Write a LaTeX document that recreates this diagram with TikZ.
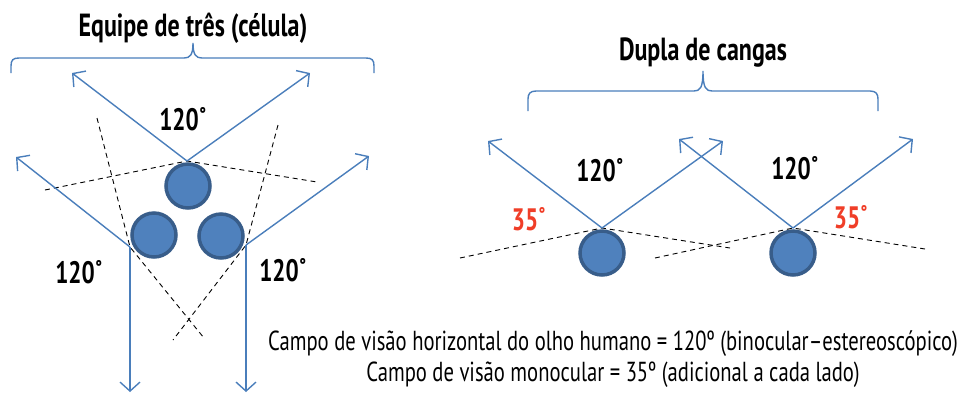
\documentclass[tikz,border=0pt]{standalone}
\usepackage{fontspec}
\setmainfont{PT Sans}[FakeStretch=0.75]
\usetikzlibrary{arrows.meta}
\definecolor{eyefill}{RGB}{79,129,189}
\definecolor{eyeline}{RGB}{56,93,138}
\definecolor{arrowblue}{RGB}{74,126,187}
\definecolor{redlbl}{RGB}{240,62,40}
\tikzset{
  eye/.style={circle,fill=eyefill,draw=eyeline,line width=3.5pt,minimum size=44pt,inner sep=0pt},
  sight/.style={draw=arrowblue,line width=1.4pt,-{Straight Barb[length=9pt,width=20pt,line width=1.4pt]}},
  edge/.style={dash pattern=on 5pt off 4pt,line width=0.9pt},
  bracepath/.style={draw=arrowblue,line width=1.4pt},
  ang/.style={font=\bfseries\fontsize{31}{34}\selectfont},
  title/.style={font=\bfseries\fontsize{32}{36}\selectfont},
  note/.style={font=\fontsize{27.5}{30}\selectfont,align=center}
}
\begin{document}
\begin{tikzpicture}[x=1pt,y=-1pt]
\useasboundingbox (0,0) rectangle (966,392);
% ---------- left group ----------
\node[title] (t1) at (193,28) {Equipe de três (célula)};
\draw[bracepath] (11,73) -- (11,66) .. controls (11,60) and (13,58) .. (19,58) -- (184,58) .. controls (190,58) and (193,55) .. (193,43)
  .. controls (193,55) and (196,58) .. (202,58) -- (366,58) .. controls (372,58) and (374,60) .. (374,66) -- (374,73);
\node[eye] (e1) at (188,186) {};
\node[eye] (e2) at (154,235) {};
\node[eye] (e3) at (221,236) {};
\coordinate (a1) at (187,161);
\coordinate (a2) at (130,247);
\coordinate (a3) at (246,245);
\coordinate (u1l) at (72,73);
\coordinate (u1r) at (310,73);
\coordinate (u2l) at (16,157);
\coordinate (d2) at (130,392);
\coordinate (u3r) at (369,156);
\coordinate (d3) at (246,392);
\coordinate (p1) at (45,190);
\coordinate (p2) at (317,182);
\coordinate (p3) at (97,118);
\coordinate (p4) at (204,338);
\coordinate (p5) at (278,125);
\coordinate (p6) at (173,340);
\draw[edge] (p1) -- (a1) -- (p2);
\draw[edge] (p3) -- (a2) -- (p4);
\draw[edge] (p5) -- (a3) -- (p6);
\draw[sight] (a1) -- (u1l);
\draw[sight] (a1) -- (u1r);
\draw[sight] (a2) -- (u2l);
\draw[sight] (a2) -- (d2);
\draw[sight] (a3) -- (u3r);
\draw[sight] (a3) -- (d3);
\node[ang] (g1) at (183,119) {120˚};
\node[ang] (g2) at (79,272) {120˚};
\node[ang] (g3) at (283,270) {120˚};
% ---------- right group ----------
\node[title] (t2) at (703,53) {Dupla de cangas};
\draw[bracepath] (528,111) -- (528,99) .. controls (528,94) and (530,91) .. (536,91) -- (694,91) .. controls (700,91) and (703,88) .. (703,71)
  .. controls (703,88) and (706,91) .. (712,91) -- (870,91) .. controls (876,91) and (878,94) .. (878,99) -- (878,111);
\node[eye] (e4) at (602,253) {};
\node[eye] (e5) at (793,253) {};
\coordinate (a4) at (602,228);
\coordinate (a5) at (793,228);
\coordinate (u4l) at (488,141);
\coordinate (u4r) at (723,141);
\coordinate (u5l) at (679,139);
\coordinate (u5r) at (913,139);
\coordinate (q1) at (460,258);
\coordinate (q2) at (730,248);
\coordinate (q3) at (655,258);
\coordinate (q4) at (925,249);
\draw[edge] (q1) -- (a4) -- (q2);
\draw[edge] (q3) -- (a5) -- (q4);
\draw[sight] (a4) -- (u4l);
\draw[sight] (a4) -- (u4r);
\draw[sight] (a5) -- (u5l);
\draw[sight] (a5) -- (u5r);
\node[ang] (g4) at (600,170) {120˚};
\node[ang] (g5) at (795,168) {120˚};
\node[ang,text=redlbl] (r1) at (529,219) {35˚};
\node[ang,text=redlbl] (r2) at (851,217) {35˚};
% ---------- notes ----------
\node[note] (n1) at (613,344) {Campo de visão horizontal do olho humano = 120º (binocular–estereoscópico)};
\node[note] (n2) at (613,375) {Campo de visão monocular = 35º (adicional a cada lado)};
\end{tikzpicture}
\end{document}
